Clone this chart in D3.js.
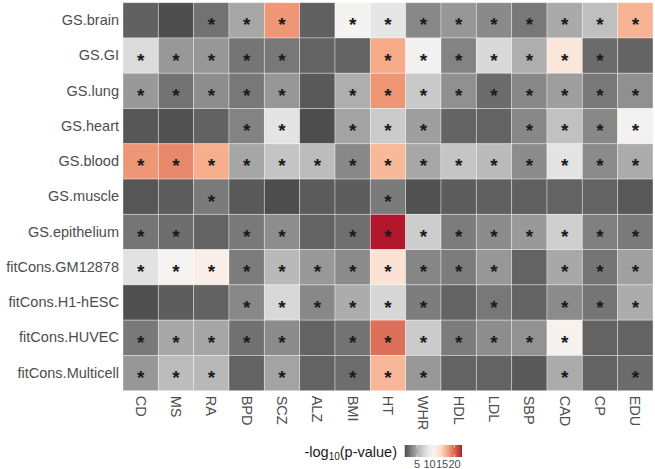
<!DOCTYPE html>
<html><head><meta charset="utf-8">
<script src="https://cdn.jsdelivr.net/npm/d3@7"></script>
<style>
html,body{margin:0;padding:0;background:#fff;}
svg{display:block;font-family:"Liberation Sans",Arial,Helvetica,sans-serif;}
</style></head>
<body>
<svg id="chart" width="655" height="469"></svg>
<script>
const rows = ["GS.brain","GS.GI","GS.lung","GS.heart","GS.blood","GS.muscle","GS.epithelium","fitCons.GM12878","fitCons.H1-hESC","fitCons.HUVEC","fitCons.Multicell"];
const cols = ["CD","MS","RA","BPD","SCZ","ALZ","BMI","HT","WHR","HDL","LDL","SBP","CAD","CP","EDU"];
// -log10(p-value) per row (same order as rows), columns as cols
const vBrain      = [1.1, 0.15, 1.98, 4.8, 17.9, 1.05, 11.3, 9.5, 3.04, 3.9, 3.15, 2.23, 4.96, 6.2, 16.5];
const vGI         = [8.3, 3.95, 3.9, 2.08, 2.23, 1.2, 1.2, 17.0, 11.0, 2.78, 8.2, 5.18, 13.2, 1.6, 1.25];
const vLung       = [4.0, 2.03, 3.33, 2.23, 3.9, 0.74, 5.18, 17.9, 6.95, 3.5, 1.65, 3.04, 4.3, 2.28, 3.5];
const vHeart      = [0.64, 0.35, 1.19, 2.78, 9.2, 0.1, 4.57, 7.1, 4.3, 1.25, 1.2, 3.04, 6.35, 3.04, 11.1];
const vBlood      = [17.9, 18.5, 16.8, 4.75, 6.58, 6.0, 3.04, 16.2, 4.8, 6.65, 5.9, 3.27, 9.2, 3.21, 5.0];
const vMuscle     = [0.55, 0.9, 2.33, 0.7, 0.1, 0.84, 0.94, 2.38, 0.35, 0.9, 1.05, 1.05, 1.24, 1.24, 0.74];
const vEpithelium = [2.08, 1.78, 1.22, 2.28, 3.33, 1.2, 1.83, 23.0, 7.3, 2.43, 3.27, 4.0, 7.4, 2.63, 2.33];
const vGM12878    = [9.0, 11.4, 12.3, 2.43, 5.75, 3.95, 3.21, 13.6, 2.93, 2.43, 3.9, 1.24, 4.85, 2.08, 4.4];
const vH1hESC     = [0.25, 0.9, 1.15, 3.04, 8.1, 3.04, 5.07, 8.0, 2.48, 1.24, 2.23, 1.24, 3.21, 2.08, 5.07];
const vHUVEC      = [2.28, 4.85, 4.75, 1.93, 3.21, 1.22, 2.03, 19.5, 7.1, 2.43, 3.33, 3.6, 11.9, 1.2, 1.2];
const vMulticell  = [3.9, 6.0, 5.7, 1.2, 4.57, 1.2, 1.72, 16.3, 3.95, 1.24, 1.24, 0.74, 5.0, 1.2, 1.65];
const legendTicks = [5, 10, 15, 20];
const sigThreshold = -Math.log10(0.05);

const values = [vBrain, vGI, vLung, vHeart, vBlood, vMuscle, vEpithelium, vGM12878, vH1hESC, vHUVEC, vMulticell];
const cells = [];
rows.forEach((r, i) => cols.forEach((c, j) => cells.push({row: r, col: c, v: values[i][j]})));

const svg = d3.select("#chart");
const gLeft = 123, gRight = 653, gTop = 2.7, gBottom = 390.7;
const x = d3.scaleBand().domain(cols).range([gLeft, gRight]).padding(0);
const y = d3.scaleBand().domain(rows).range([gTop, gBottom]).padding(0);

const vmin = d3.min(cells, d => d.v), vmax = d3.max(cells, d => d.v);
const palette = ["#4d4d4d","#878787","#bababa","#e0e0e0","#f7f5f4","#fddbc7","#f4a582","#d6604d","#b2182b"];
const color = d3.scaleLinear()
  .domain(palette.map((_, i) => vmin + i * (vmax - vmin) / (palette.length - 1)))
  .range(palette).interpolate(d3.interpolateLab);

svg.append("g").selectAll("rect").data(cells).join("rect")
  .attr("x", d => x(d.col)).attr("y", d => y(d.row))
  .attr("width", x.bandwidth()).attr("height", y.bandwidth())
  .attr("fill", d => color(d.v))
  .attr("stroke", "rgba(255,255,255,0.45)").attr("stroke-width", 0.8);

svg.append("g").selectAll("text").data(cells.filter(d => d.v >= sigThreshold)).join("text")
  .attr("x", d => x(d.col) + x.bandwidth() / 2)
  .attr("y", d => y(d.row) + y.bandwidth() / 2 + 11)
  .attr("text-anchor", "middle")
  .attr("font-size", 19).attr("font-weight", "bold").attr("fill", "#1a1a1a")
  .text("*");

// Axes
const yAxis = svg.append("g").attr("transform", `translate(${gLeft},0)`)
  .call(d3.axisLeft(y).tickSize(0).tickPadding(4));
yAxis.select(".domain").remove();
yAxis.selectAll("text").attr("font-size", 14.5).attr("fill", "#4d4d4d")
  .attr("font-family", "Liberation Sans, Arial, sans-serif");

const xAxis = svg.append("g").attr("transform", `translate(0,${gBottom})`)
  .call(d3.axisBottom(x).tickSize(0).tickPadding(0));
xAxis.select(".domain").remove();
xAxis.selectAll("text")
  .attr("font-size", 14.5).attr("fill", "#4d4d4d")
  .attr("font-family", "Liberation Sans, Arial, sans-serif")
  .attr("transform", "rotate(90)")
  .attr("text-anchor", "start")
  .attr("x", 5).attr("y", 0).attr("dy", "0.35em");

// Legend
const lx = d3.scaleLinear().domain([0, 5]).range([404.5, 417]);
const barTop = 445, barH = 12;
const defs = svg.append("defs");
const grad = defs.append("linearGradient").attr("id", "lg").attr("x1", "0%").attr("x2", "100%");
d3.range(0, 1.0001, 0.02).forEach(t => {
  grad.append("stop").attr("offset", (t * 100) + "%").attr("stop-color", color(vmin + t * (vmax - vmin)));
});
svg.append("rect").attr("x", lx(vmin)).attr("y", barTop)
  .attr("width", lx(vmax) - lx(vmin)).attr("height", barH).attr("fill", "url(#lg)");
const lt = svg.append("g");
legendTicks.forEach(t => {
  lt.append("line").attr("x1", lx(t)).attr("x2", lx(t)).attr("y1", barTop).attr("y2", barTop + 2.5).attr("stroke", "#fff").attr("stroke-width", 0.6);
  lt.append("line").attr("x1", lx(t)).attr("x2", lx(t)).attr("y1", barTop + barH - 2.5).attr("y2", barTop + barH).attr("stroke", "#fff").attr("stroke-width", 0.6);
  lt.append("text").attr("x", lx(t)).attr("y", barTop + barH + 11)
    .attr("text-anchor", "middle").attr("font-size", 11).attr("fill", "#4d4d4d").text(t);
});
const title = svg.append("text").attr("x", 397).attr("y", 457)
  .attr("text-anchor", "end").attr("font-size", 14.5).attr("fill", "#1a1a1a");
title.append("tspan").text("-log");
title.append("tspan").attr("font-size", 10).attr("dy", 3).text("10");
title.append("tspan").attr("dy", -3).text("(p-value)");
</script>
</body></html>
